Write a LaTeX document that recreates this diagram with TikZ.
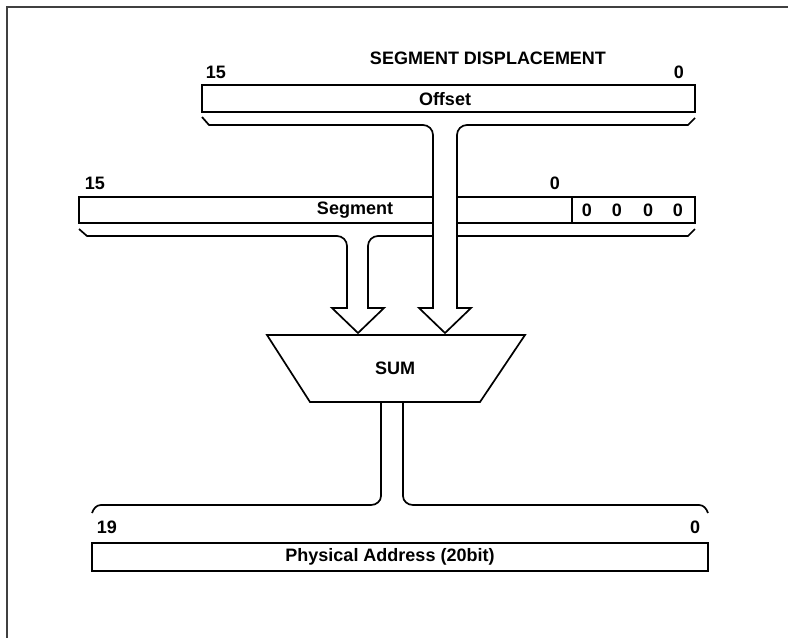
\documentclass[tikz,border=0pt]{standalone}
\usepackage{fontspec}
\setmainfont{Liberation Sans}
\begin{document}
\begin{tikzpicture}[x=1pt,y=-1pt,
    bus/.style={line width=1.7pt,line join=miter},
    regbox/.style={draw,line width=1.7pt,inner sep=0pt,outer sep=0pt},
    lbl/.style={font=\bfseries\fontsize{18}{20}\selectfont,inner sep=0pt}]
    \useasboundingbox (0,0) rectangle (788,638);
    \draw[line width=1.5pt,gray!50!black] (788,7)--(7,7)--(7,638);
    \node[lbl] (title) at (488,58) {SEGMENT DISPLACEMENT};
    \node[lbl] (offhi) at (216,72) {15};
    \node[lbl] (offlo) at (679,72) {0};
    \node[regbox,minimum width=493pt,minimum height=27pt] (offset) at (448.5,98.5) {};
    \node[lbl] (offtext) at (445,99) {Offset};
    \node[lbl] (seghi) at (95,183) {15};
    \node[lbl] (seglo) at (555,183) {0};
    \node[regbox,minimum width=493pt,minimum height=26pt] (segment) at (325.5,210) {};
    \node[regbox,minimum width=123pt,minimum height=26pt] (lowbits) at (633.5,210) {};
    \node[lbl] (segtext) at (355,210) {Segment};
    \foreach \x in {587,617,648,678}
        \node[lbl] (zero\x) at (\x,210) {0};
    \filldraw[bus,fill=white] (79,229)--(87,236)--(337,236) to[out=0,in=90] (347,246)--(347,308)--(332,308)--(358,333)--(384,308)--(368,308)--(368,246) to[out=90,in=180] (378,236)--(688,236)--(695,229);
    \filldraw[bus,fill=white] (202,117)--(209,125)--(423,125) to[out=0,in=90] (433,135)--(433,308)--(419,308)--(445,333)--(471,308)--(457,308)--(457,135) to[out=90,in=180] (467,125)--(688,125)--(695,118);
    \draw[bus] (267,335)--(525,335)--(480,402)--(310,402)--cycle;
    \node[lbl] (sum) at (395,368) {SUM};
    \draw[bus] (92,513) to[out=70,in=180] (101,505)--(371,505) to[out=0,in=-90] (381,496)--(381,402);
    \draw[bus] (403,402)--(403,496) to[out=-90,in=180] (413,505)--(699,505) to[out=0,in=110] (708,513);
    \node[lbl] (physhi) at (107,527) {19};
    \node[lbl] (physlo) at (695,527) {0};
    \node[regbox,minimum width=616pt,minimum height=28pt] (physical) at (400,557) {};
    \node[lbl] (phystext) at (390,557) {Physical Address (20bit)};
\end{tikzpicture}
\end{document}
